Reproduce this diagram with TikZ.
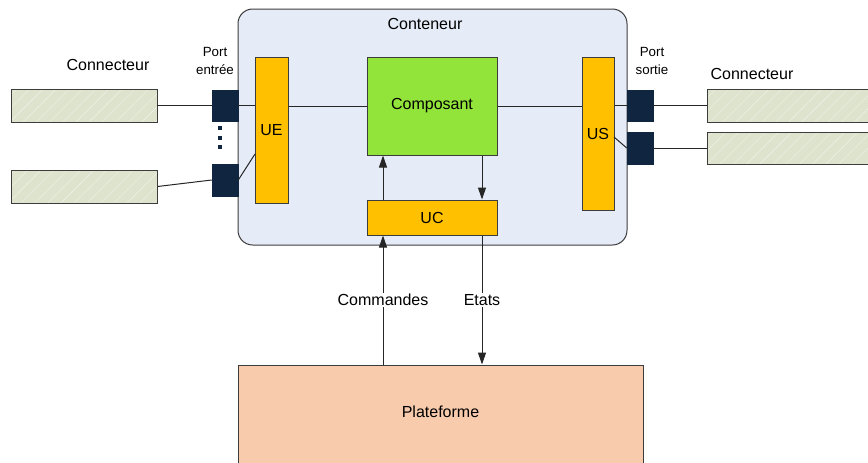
\documentclass[tikz,border=0pt]{standalone}
\usepackage{fontspec}
\setmainfont{Liberation Sans}
\usetikzlibrary{arrows.meta,fit,patterns.meta}

\definecolor{fondconteneur}{RGB}{230,236,247}
\definecolor{orangeunite}{RGB}{255,192,0}
\definecolor{vertcomposant}{RGB}{146,228,58}
\definecolor{bleuport}{RGB}{16,37,64}
\definecolor{fondconnecteur}{RGB}{221,227,205}
\definecolor{peche}{RGB}{248,203,173}
\definecolor{trait}{RGB}{60,60,60}

\tikzset{
    bloc/.style={draw=trait, line width=0.75pt, inner sep=0pt,
        label={[font=\fontsize{12}{14}\selectfont]center:#1}},
    bloc/.default={},
    unite/.style={bloc=#1, fill=orangeunite},
    port/.style={draw=bleuport, fill=bleuport, inner sep=0pt},
    connecteur/.style={draw=trait, line width=0.75pt, inner sep=0pt,
        preaction={fill=fondconnecteur},
        pattern={Lines[angle=45,distance=7pt,line width=0.3pt]},
        pattern color=white!55!fondconnecteur},
    lien/.style={draw=black!85, line width=0.75pt},
    fleche/.style={lien, -{Triangle[length=9pt,width=6pt]}},
    etiquette/.style={font=\fontsize{12}{14}\selectfont},
    petit/.style={font=\fontsize{10}{13.5}\selectfont, align=center},
}

\begin{document}
\begin{tikzpicture}[x=0.75pt, y=-0.75pt]
    \useasboundingbox (0,0) rectangle (868,462);

    % Conteneur (fond)
    \node[bloc, fill=fondconteneur, rounded corners=11pt, fit={(238,9) (627,245)}] (cont) {};
    \node[etiquette] (titre) at (425,24) {Conteneur};

    % unites et composant
    \node[unite=UE, fit={(255,57) (288,203)}] (ue) {};
    \node[unite=US, fit={(582,57) (614,210)}] (us) {};
    \node[bloc=Composant, fill=vertcomposant, fit={(367,57) (497,155)}] (comp) {};
    \node[unite=UC, fit={(367,200) (497,235)}] (uc) {};

    % Plateforme (coupee en bas)
    \node[draw=trait, line width=0.75pt, inner sep=0pt, fill=peche, fit={(238,365) (643,470)},
        label={[font=\fontsize{12}{14}\selectfont, yshift=4pt]center:Plateforme}] (plat) {};

    % ports d'entree
    \node[port, fit={(212,90) (238,121)}] (pe1) {};
    \node[port, fit={(212,164) (238,196)}] (pe2) {};
    \foreach \y in {128,138,147}
        \fill[bleuport] (218,\y-2) rectangle (222,\y+2);
    \node[petit] (lpe) at (215,61) {Port\\entrée};

    % ports de sortie
    \node[port, fit={(627,90) (653,121)}] (ps1) {};
    \node[port, fit={(627,132) (653,164)}] (ps2) {};
    \node[petit] (lps) at (652,61) {Port\\sortie};

    % connecteurs
    \node[connecteur, fit={(11,89) (157,122)}] (cg1) {};
    \node[connecteur, fit={(11,170) (157,203)}] (cg2) {};
    \node[connecteur, fit={(707,89) (875,122)}] (cd1) {};
    \node[connecteur, fit={(707,132) (875,164)}] (cd2) {};
    \node[etiquette] (lcg) at (108,65) {Connecteur};
    \node[etiquette] (lcd) at (752,74) {Connecteur};

    % liens cote entree
    \draw[lien] (cg1.east) -- (pe1.west);
    \draw[lien] (pe1.east) -- (pe1.east -| ue.west);
    \draw[lien] (cg2.east) -- (pe2.west);
    \coordinate (ue-bas) at (255,154);
    \draw[lien] (pe2.east) -- (ue-bas);
    \draw[lien] (comp.west -| ue.east) -- (comp.west);

    % liens cote sortie
    \draw[lien] (comp.east) -- (comp.east -| us.west);
    \draw[lien] (ps1.west -| us.east) -- (ps1.west);
    \draw[lien] (ps1.east) -- (cd1.west);
    \coordinate (us-bas) at (614,137);
    \draw[lien] (us-bas) -- (ps2.west);
    \draw[lien] (ps2.east) -- (cd2.west);

    % commandes et etats
    \coordinate (xcmd) at (383,0);
    \coordinate (xetat) at (482,0);
    \draw[fleche] (xcmd |- uc.north) -- (xcmd |- comp.south);
    \draw[fleche] (xetat |- comp.south) -- (xetat |- uc.north);
    \draw[fleche] (xcmd |- plat.north) -- node[etiquette, fill=white, inner sep=1pt] (lcmd) {Commandes} (xcmd |- uc.south);
    \draw[fleche] (xetat |- uc.south) -- node[etiquette, fill=white, inner sep=1pt] (letat) {Etats} (xetat |- plat.north);
\end{tikzpicture}
\end{document}
